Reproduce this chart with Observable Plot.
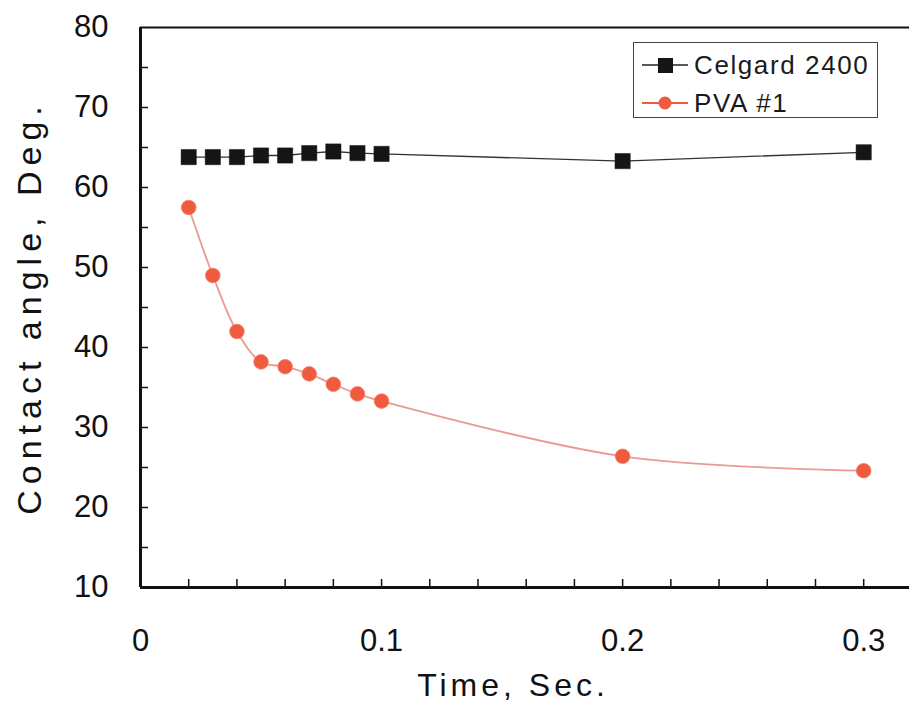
<!DOCTYPE html>
<html>
<head>
<meta charset="utf-8">
<script src="https://cdn.jsdelivr.net/npm/d3@7"></script>
<script src="https://cdn.jsdelivr.net/npm/@observablehq/plot@0.6"></script>
<style>
  html, body { margin: 0; padding: 0; background: #fff; }
  #wrap { position: relative; width: 909px; height: 706px; font-family: "Liberation Sans", Arial, sans-serif; }
  #legend { position: absolute; left: 633px; top: 42px; width: 245px; height: 76px;
            border: 1.5px solid #444; background: #fff; box-sizing: border-box; }
  .row { position: absolute; left: 0; height: 36px; display: flex; align-items: center; white-space: nowrap; }
  .row span { font-size: 26px; letter-spacing: 1.6px; color: #1a1a1a; margin-left: 4px; }
</style>
</head>
<body>
<div id="wrap"></div>
<script>
const times = [0.02, 0.03, 0.04, 0.05, 0.06, 0.07, 0.08, 0.09, 0.1, 0.2, 0.3];
const celgard = [63.8, 63.8, 63.8, 64.0, 64.0, 64.3, 64.5, 64.3, 64.2, 63.3, 64.4];
const pva = [57.5, 49.0, 42.0, 38.2, 37.6, 36.7, 35.4, 34.2, 33.3, 26.4, 24.6];
const seriesNames = ["Celgard 2400", "PVA #1"];
const xTickLabels = [0, 0.1, 0.2, 0.3];
const yTickLabels = [10, 20, 30, 40, 50, 60, 70, 80];
const xMinorTicks = [0.02, 0.04, 0.06, 0.08, 0.1, 0.12, 0.14, 0.16, 0.18, 0.2, 0.22, 0.24, 0.26, 0.28, 0.3];
const yMinorTicks = [15, 20, 25, 30, 35, 40, 45, 50, 55, 60, 65, 70, 75];
const xTitle = "Time, Sec.";
const yTitle = "Contact angle, Deg.";

const celgardData = times.map((t, i) => ({t, v: celgard[i]}));
const pvaData = times.map((t, i) => ({t, v: pva[i]}));

const colCel = "#151515";
const colPva = "#f05a3e";
const colPvaLine = "#ea9a90";

const W = 909, H = 706, ML = 140, MT = 27, MB = 119, MR = 0;
const frameW = W - ML - MR, frameH = H - MT - MB;

const chart = Plot.plot({
  width: W, height: H,
  marginLeft: ML, marginTop: MT, marginBottom: MB, marginRight: MR,
  style: {fontFamily: "'Liberation Sans', Arial, sans-serif", background: "#fff", color: "#111"},
  x: {domain: [0, 0.319], axis: null, label: null},
  y: {domain: [10, 80], axis: null, label: null},
  marks: [
    Plot.tickY(yMinorTicks, {stroke: "#111", strokeWidth: 1.5, insetRight: frameW - 8}),
    Plot.tickX(xMinorTicks, {stroke: "#111", strokeWidth: 1.5, insetTop: frameH - 8}),
    Plot.ruleX([0], {stroke: "#111", strokeWidth: 3}),
    Plot.ruleY([10], {stroke: "#111", strokeWidth: 3}),
    Plot.ruleY([80], {stroke: "#111", strokeWidth: 2}),
    Plot.axisY(yTickLabels, {tickSize: 0, tickPadding: 32, fontSize: 31, fill: "#111", label: null}),
    Plot.axisX(xTickLabels, {tickSize: 0, tickPadding: 41, fontSize: 31, fill: "#111", label: null,
      tickFormat: d => d === 0 ? "0" : d3.format(".1f")(d)}),
    Plot.line(celgardData, {x: "t", y: "v", stroke: "#333", strokeWidth: 1.3}),
    Plot.dot(celgardData, {x: "t", y: "v", symbol: "square", r: 8.6, fill: colCel, stroke: colCel, strokeWidth: 0.5}),
    Plot.line(pvaData, {x: "t", y: "v", stroke: colPvaLine, strokeWidth: 1.8, curve: "catmull-rom"}),
    Plot.dot(pvaData, {x: "t", y: "v", r: 7.3, fill: colPva, stroke: "#f47a60", strokeWidth: 0.8}),
    Plot.text([xTitle], {frameAnchor: "bottom", textAnchor: "middle", lineAnchor: "middle", dy: 98, dx: -12, fontSize: 32, fill: "#111"}),
    Plot.text([yTitle], {frameAnchor: "left", textAnchor: "middle", lineAnchor: "middle", dx: -110, rotate: -90, fontSize: 34, fill: "#111"})
  ]
});

const wrap = document.getElementById("wrap");
wrap.appendChild(chart);

d3.select(chart).selectAll("text").each(function() {
  const t = this.textContent;
  if (t === xTitle) this.setAttribute("letter-spacing", "4px");
  if (t === yTitle) this.setAttribute("letter-spacing", "6px");
});

const legend = document.createElement("div");
legend.id = "legend";
const symbols = [
  `<svg width="56" height="36"><line x1="8" y1="18" x2="54" y2="18" stroke="#222" stroke-width="1.5"/><rect x="24" y="11" width="15" height="15" fill="${colCel}"/></svg>`,
  `<svg width="56" height="36"><line x1="8" y1="18" x2="54" y2="18" stroke="${colPva}" stroke-width="1.8"/><circle cx="31" cy="18" r="6.5" fill="${colPva}"/></svg>`
];
seriesNames.forEach((name, i) => {
  const row = document.createElement("div");
  row.className = "row";
  row.style.top = (i === 0 ? 4 : 42) + "px";
  row.innerHTML = symbols[i] + `<span>${name}</span>`;
  legend.appendChild(row);
});
wrap.appendChild(legend);
</script>
</body>
</html>
